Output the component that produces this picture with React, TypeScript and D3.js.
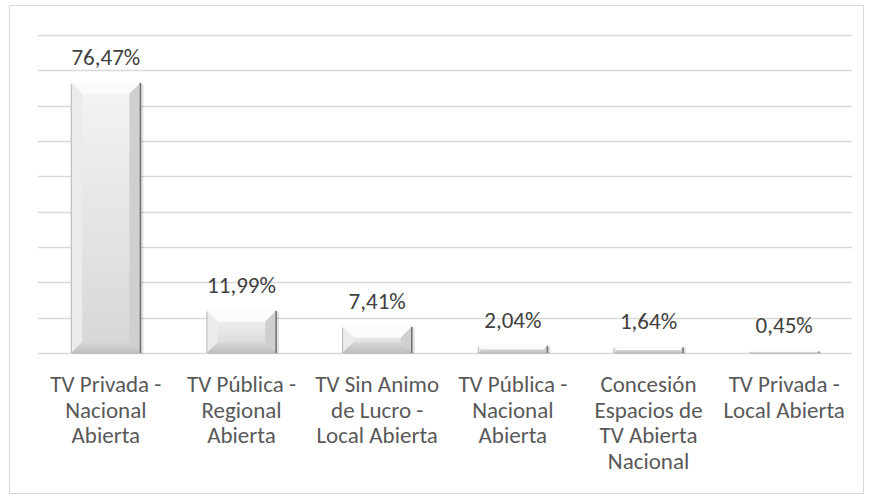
import { useRef, useEffect } from 'react';
import * as d3 from 'd3';

const categories = [
  ['TV Privada -', 'Nacional', 'Abierta'],
  ['TV Pública -', 'Regional', 'Abierta'],
  ['TV Sin Animo', 'de Lucro -', 'Local Abierta'],
  ['TV Pública -', 'Nacional', 'Abierta'],
  ['Concesión', 'Espacios de', 'TV Abierta', 'Nacional'],
  ['TV Privada -', 'Local Abierta'],
];
const values = [76.47, 11.99, 7.41, 2.04, 1.64, 0.45];
const yTicks = [0, 10, 20, 30, 40, 50, 60, 70, 80, 90];

export default function App() {
  const ref = useRef<SVGSVGElement>(null);

  useEffect(() => {
    const svg = d3.select(ref.current);
    svg.selectAll('*').remove();
    const W = 869, H = 500;
    const left = 38, right = 852, top = 35, bottom = 353;
    const font = 'Carlito, "Open Sans", "Noto Sans", sans-serif';

    const defs = svg.append('defs');
    const g1 = defs.append('linearGradient').attr('id', 'face').attr('x1', 0).attr('y1', 0).attr('x2', 0).attr('y2', 1);
    g1.append('stop').attr('offset', 0).attr('stop-color', '#f4f4f4');
    g1.append('stop').attr('offset', 1).attr('stop-color', '#d6d6d6');
    const g2 = defs.append('linearGradient').attr('id', 'bot').attr('x1', 0).attr('y1', 0).attr('x2', 0).attr('y2', 1);
    g2.append('stop').attr('offset', 0).attr('stop-color', '#d8d8d8');
    g2.append('stop').attr('offset', 1).attr('stop-color', '#bdbdbd');

    svg.append('rect').attr('x', 0).attr('y', 0).attr('width', W).attr('height', H).attr('fill', '#fff');
    svg.append('rect').attr('x', 9.5).attr('y', 5.5).attr('width', 854).attr('height', 488)
      .attr('fill', 'none').attr('stroke', '#d9d9d9');

    const x = d3.scaleBand<number>().domain(values.map((_, i) => i)).range([left, right]).paddingInner(0.49).paddingOuter(0.245);
    const y = d3.scaleLinear().domain([0, 90]).range([bottom, top]);

    svg.append('g').selectAll('line').data(yTicks).join('line')
      .attr('x1', left).attr('x2', right)
      .attr('y1', d => Math.round(y(d)) + 0.5).attr('y2', d => Math.round(y(d)) + 0.5)
      .attr('stroke', '#d9d9d9').attr('stroke-width', 1.3);

    const bars = svg.append('g');
    values.forEach((v, i) => {
      const x0 = x(i)!, w = x.bandwidth();
      const y0 = y(v), h = bottom - y0;
      const x1 = x0 + w, y1 = bottom;
      const b = Math.min(11, h / 2, w / 2);
      const g = bars.append('g');
      // shadow
      g.append('rect').attr('x', x0 + 1).attr('y', y0 + 1).attr('width', w + 2).attr('height', h)
        .attr('fill', '#000').attr('opacity', 0.12);
      // base
      g.append('rect').attr('x', x0).attr('y', y0).attr('width', w).attr('height', h).attr('fill', 'url(#face)');
      // top bevel
      g.append('polygon').attr('points', `${x0},${y0} ${x1},${y0} ${x1 - b},${y0 + b} ${x0 + b},${y0 + b}`).attr('fill', '#fbfbfb');
      // left bevel
      g.append('polygon').attr('points', `${x0},${y0} ${x0 + b},${y0 + b} ${x0 + b},${y1 - b} ${x0},${y1}`).attr('fill', '#ebebeb');
      // right bevel
      g.append('polygon').attr('points', `${x1},${y0} ${x1},${y1} ${x1 - b},${y1 - b} ${x1 - b},${y0 + b}`).attr('fill', '#cfcfcf');
      // bottom bevel
      g.append('polygon').attr('points', `${x0},${y1} ${x1},${y1} ${x1 - b},${y1 - b} ${x0 + b},${y1 - b}`).attr('fill', 'url(#bot)');
      // dark edges
      g.append('line').attr('x1', x1).attr('x2', x1).attr('y1', y0).attr('y2', y1).attr('stroke', '#6f6f6f').attr('stroke-width', 1.5);
      g.append('line').attr('x1', x0).attr('x2', x0).attr('y1', y0 + 1).attr('y2', y1).attr('stroke', '#a6a6a6').attr('stroke-width', 0.8);

      svg.append('text').attr('x', x0 + w / 2).attr('y', y0 - 18)
        .attr('text-anchor', 'middle').attr('font-family', font).attr('font-size', 23).attr('fill', '#404040')
        .text(v.toFixed(2).replace('.', ',') + '%');
    });

    const labels = svg.append('g');
    categories.forEach((lines, i) => {
      const cx = x(i)! + x.bandwidth() / 2;
      lines.forEach((ln, j) => {
        labels.append('text').attr('x', cx).attr('y', 392 + j * 25.6)
          .attr('text-anchor', 'middle').attr('font-family', font).attr('font-size', 23).attr('fill', '#595959')
          .text(ln);
      });
    });
  }, []);

  return (
    <svg ref={ref} width={869} height={500} style={{ position: 'absolute', left: 0, top: 0 }} />
  );
}
